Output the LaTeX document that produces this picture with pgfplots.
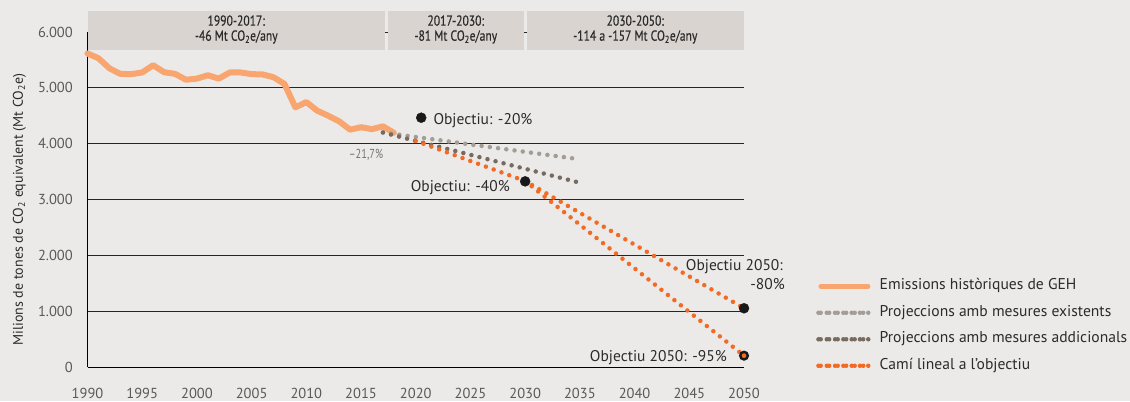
\documentclass[border=0pt]{standalone}
\usepackage{fontspec}
\setmainfont{PT Sans}
\newfontfamily\condfont[FakeStretch=0.8]{PT Sans}
\newfontfamily\hdrfont[FakeStretch=0.8, FakeBold=0.4]{PT Sans}
\usepackage{pgfplots}
\pgfplotsset{compat=1.18}
\definecolor{bg}{HTML}{ECEAE8}
\definecolor{hdr}{HTML}{D9D4CF}
\definecolor{histc}{HTML}{F9A56F}
\definecolor{exist}{HTML}{A39D96}
\definecolor{addc}{HTML}{776B60}
\definecolor{lin}{HTML}{F26A24}
\definecolor{txtc}{HTML}{2B2B2B}
\definecolor{tickc}{HTML}{595959}
\newcommand\fs[1]{\fontsize{#1bp}{#1bp}\selectfont}
\tikzset{dotst/.style={line width=4.5bp, line cap=round, dash pattern=on 0pt off 8.3bp}}
\begin{document}
\begin{tikzpicture}[x=1bp,y=1bp]
\fill[bg] (0,0) rectangle (1130,401);
\useasboundingbox (0,0) rectangle (1130,401);
\begin{axis}[
  at={(87.5bp,34bp)}, anchor=south west, scale only axis,
  width=656.5bp, height=335bp,
  xmin=1990, xmax=2050, ymin=0, ymax=6000,
  axis x line*=bottom, axis y line*=left,
  axis line style={-, black, line width=1bp},
  ymajorgrids, grid style={black!85, line width=0.9bp},
  major tick length=0pt,
  xtick={1990,1995,...,2050},
  xticklabels={1990,1995,2000,2005,2010,2015,2020,2025,2030,2035,2040,2045,2050},
  ytick={0,1000,2000,3000,4000,5000,6000},
  yticklabels={0,1.000,2.000,3.000,4.000,5.000,6.000},
  tick label style={font=\fs{14.5}, text=tickc},
  xticklabel style={anchor=base, yshift=-31bp, inner sep=0pt},
  yticklabel style={anchor=east, xshift=-14.5bp, inner sep=0pt},
  ylabel={Milions de tones de CO\textsubscript{2} equivalent (Mt CO\textsubscript{2}e)},
  ylabel style={at={(axis description cs:-0.1036,0.47)}, anchor=center, font=\fs{14}, text=txtc},
  clip=false,
  legend style={at={(axis description cs:1.1097,0.261)}, anchor=north west, draw=none, fill=none,
    font=\fs{15.6}, text=txtc, row sep=13.5bp, column sep=7bp, inner sep=0pt,
    nodes={inner sep=0pt, text height=10bp, text depth=3bp}},
  legend cell align=left,
]
\addplot[histc, line width=6bp, line join=round, line cap=round,
  legend image code/.code={\draw[histc, line width=5bp, line cap=round] (2.5bp,0bp) -- (49.5bp,0bp);}]
  coordinates {(1990,5615) (1991,5530) (1992,5350) (1993,5250) (1994,5245) (1995,5275) (1996,5405)
  (1997,5280) (1998,5250) (1999,5145) (2000,5165) (2001,5225) (2002,5165) (2003,5275) (2004,5275)
  (2005,5245) (2006,5240) (2007,5190) (2008,5070) (2009,4650) (2010,4745) (2011,4590) (2012,4500)
  (2013,4400) (2014,4250) (2015,4295) (2016,4260) (2017,4310) (2018,4195)};
\addlegendentry{Emissions històriques de GEH}
\addplot[exist, dotst,
  legend image code/.code={\path (0bp,0bp) -- (52bp,0bp); \draw[exist, line width=4.5bp, line cap=round, dash pattern=on 0pt off 8.5bp] (2.2bp,0bp) -- (45bp,0bp);}]
  coordinates {(2017,4200) (2035,3720)};
\addlegendentry{Projeccions amb mesures existents}
\addplot[addc, dotst,
  legend image code/.code={\path (0bp,0bp) -- (52bp,0bp); \draw[addc, line width=4.5bp, line cap=round, dash pattern=on 0pt off 8.5bp] (2.2bp,0bp) -- (45bp,0bp);}]
  coordinates {(2017,4200) (2035,3300)};
\addlegendentry{Projeccions amb mesures addicionals}
\addplot[lin, dotst,
  legend image code/.code={\path (0bp,0bp) -- (52bp,0bp); \draw[lin, line width=4.5bp, line cap=round, dash pattern=on 0pt off 8.5bp] (2.2bp,0bp) -- (45bp,0bp);}]
  coordinates {(2020,4050) (2030,3330) (2050,1052)};
\addlegendentry{Camí lineal a l'objectiu}
\addplot[lin, dotst, forget plot] coordinates {(2030,3330) (2050,203)};
\addplot[only marks, mark=*, mark size=5bp, color=black!90, forget plot]
  coordinates {(2020.5,4465) (2030,3325) (2050,1052)};
\addplot[only marks, mark=*, mark size=3.8bp, mark options={draw=black!90, fill=lin, line width=2.4bp}, forget plot]
  coordinates {(2050,203)};
\end{axis}
% header bands
\fill[hdr] (87.5,390) rectangle (385,351);
\fill[hdr] (387.5,390) rectangle (524,351);
\fill[hdr] (526.5,390) rectangle (744,351);
\node[align=center, font=\hdrfont\fs{14.5}, text=txtc, inner sep=0pt] at (236.25,371.5)
  {1990-2017:\\[0.5bp]-46 Mt CO\textsubscript{2}e/any};
\node[align=center, font=\hdrfont\fs{14.5}, text=txtc, inner sep=0pt] at (455.75,371.5)
  {2017-2030:\\[0.5bp]-81 Mt CO\textsubscript{2}e/any};
\node[align=center, font=\hdrfont\fs{14.5}, text=txtc, inner sep=0pt] at (635.25,371.5)
  {2030-2050:\\[0.5bp]-114 a -157 Mt CO\textsubscript{2}e/any};
% annotations
\node[anchor=base west, font=\fs{15.5}, text=txtc, inner sep=0pt] at (433.3,277) {Objectiu: -20\%};
\node[anchor=base east, font=\fs{15.5}, text=txtc, inner sep=0pt] at (510,209.5) {Objectiu: -40\%};
\node[anchor=base east, font=\fs{15.5}, text=txtc, inner sep=0pt] at (783,130.5) {Objectiu 2050:};
\node[anchor=base east, font=\fs{15.5}, text=txtc, inner sep=0pt] at (785,112) {-80\%};
\node[anchor=base east, font=\fs{15.5}, text=txtc, inner sep=0pt] at (727,40) {Objectiu 2050: -95\%};
\node[anchor=base east, font=\condfont\fs{13}, text=tickc!85, inner sep=0pt] at (383.3,242.5) {–21,7\%};
\end{tikzpicture}
\end{document}
